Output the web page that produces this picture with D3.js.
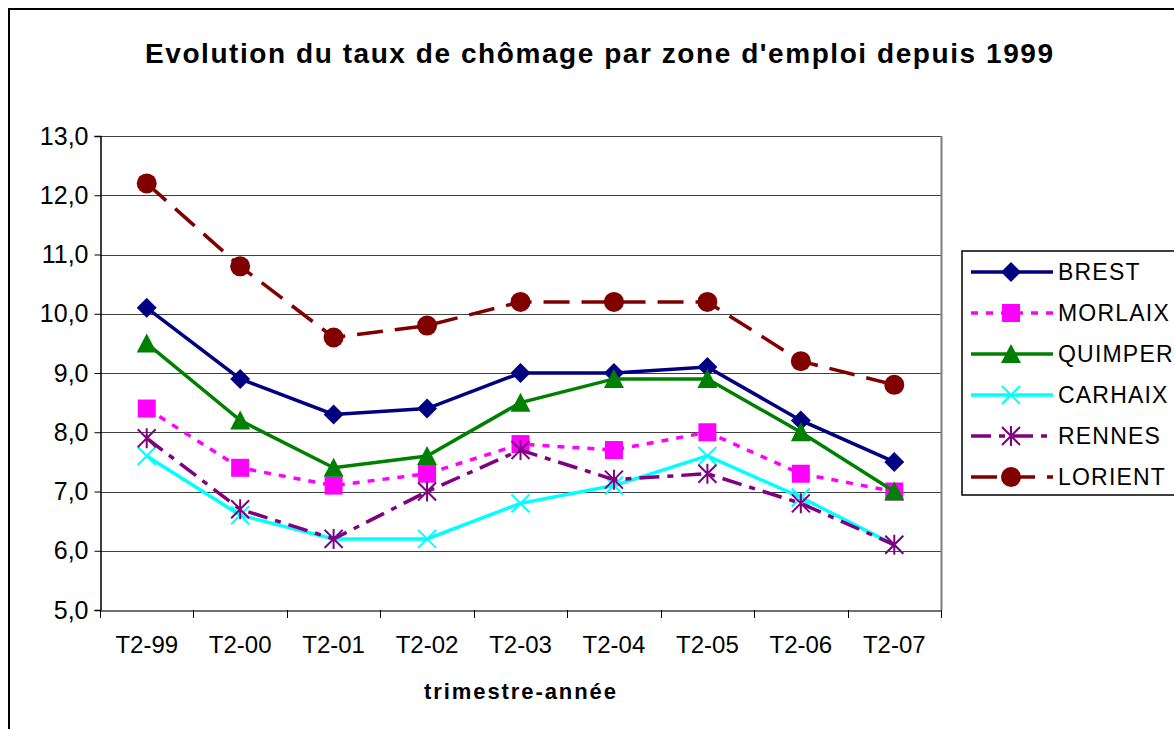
<!DOCTYPE html>
<html><head><meta charset="utf-8">
<script src="https://cdn.jsdelivr.net/npm/d3@7"></script>
<style>body{margin:0;background:#fff}svg{display:block}text{font-family:"Liberation Sans",Arial,sans-serif}</style>
</head><body>
<svg id="c" width="1174" height="729"></svg>
<script>
const categories = ["T2-99","T2-00","T2-01","T2-02","T2-03","T2-04","T2-05","T2-06","T2-07"];
const seriesNames = ["BREST","MORLAIX","QUIMPER","CARHAIX","RENNES","LORIENT"];
const brest   = [10.1, 8.9, 8.3, 8.4, 9.0, 9.0, 9.1, 8.2, 7.5];
const morlaix = [8.4, 7.4, 7.1, 7.3, 7.8, 7.7, 8.0, 7.3, 7.0];
const quimper = [9.5, 8.2, 7.4, 7.6, 8.5, 8.9, 8.9, 8.0, 7.0];
const carhaix = [7.6, 6.6, 6.2, 6.2, 6.8, 7.1, 7.6, 6.9, 6.1];
const rennes  = [7.9, 6.7, 6.2, 7.0, 7.7, 7.2, 7.3, 6.8, 6.1];
const lorient = [12.2, 10.8, 9.6, 9.8, 10.2, 10.2, 10.2, 9.2, 8.8];
const yTicks = [5,6,7,8,9,10,11,12,13];
const title = "Evolution du taux de chômage par zone d'emploi depuis 1999";
const xTitle = "trimestre-année";

const seriesValues = [brest, morlaix, quimper, carhaix, rennes, lorient];
const styles = [
  {color:"#000080", dash:null, marker:"diamond"},
  {color:"#FF00FF", dash:"7,8", marker:"square"},
  {color:"#008000", dash:null, marker:"triangle"},
  {color:"#00FFFF", dash:null, marker:"x"},
  {color:"#800080", dash:"20,8,6,8", marker:"star"},
  {color:"#800000", dash:"26,12", marker:"circle"}
];

const svg = d3.select("#c");
svg.append("rect").attr("x",9).attr("y",9).attr("width",1200).attr("height",760)
  .attr("fill","none").attr("stroke","#000").attr("stroke-width",2);

const L=100, R=941, T=136, B=610;
const x = d3.scaleBand().domain(categories).range([L,R]);
const y = d3.scaleLinear().domain([5,13]).range([B,T]);

svg.append("g").selectAll("line").data(yTicks.slice(1)).join("line")
  .attr("x1",L).attr("x2",R).attr("y1",d=>Math.round(y(d))+0.5).attr("y2",d=>Math.round(y(d))+0.5)
  .attr("stroke","#404040").attr("stroke-width",1);
svg.append("line").attr("x1",R+0.5).attr("x2",R+0.5).attr("y1",T).attr("y2",B).attr("stroke","#808080").attr("stroke-width",2);

const yAxis = d3.axisLeft(y).tickValues(yTicks).tickSize(6).tickPadding(6)
  .tickFormat(d=>d3.format(".1f")(d).replace(".",","));
const gy = svg.append("g").attr("transform",`translate(${L+0.5},0)`).call(yAxis);
gy.select(".domain").attr("stroke","#000").attr("stroke-width",1.5);
gy.selectAll(".tick line").attr("stroke","#000");
gy.selectAll("text").attr("font-size",25).attr("fill","#000");

const xAxis = d3.axisBottom(x).tickSize(0).tickPadding(25);
const gx = svg.append("g").attr("transform",`translate(0,${B+0.5})`).call(xAxis);
gx.select(".domain").attr("stroke","#404040").attr("stroke-width",1.5);
gx.selectAll("text").attr("font-size",24).attr("fill","#000");
const bounds = categories.map(c=>x(c)).concat([x(categories[categories.length-1])+x.bandwidth()]);
svg.append("g").selectAll("line").data(bounds).join("line")
  .attr("x1",d=>Math.round(d)+0.5).attr("x2",d=>Math.round(d)+0.5).attr("y1",B).attr("y2",B+8)
  .attr("stroke","#000").attr("stroke-width",1);

const cx = c => x(c)+x.bandwidth()/2;

function drawMarker(g, type, color, px, py) {
  if (type==="diamond") {
    const r=10;
    g.append("path").attr("d",`M${px},${py-r}L${px+r},${py}L${px},${py+r}L${px-r},${py}Z`).attr("fill",color);
  } else if (type==="square") {
    const r=9;
    g.append("rect").attr("x",px-r).attr("y",py-r).attr("width",2*r).attr("height",2*r).attr("fill",color);
  } else if (type==="triangle") {
    const r=10;
    g.append("path").attr("d",`M${px},${py-r}L${px+r},${py+r*0.9}L${px-r},${py+r*0.9}Z`).attr("fill",color);
  } else if (type==="x") {
    const r=9;
    g.append("path").attr("d",`M${px-r},${py-r}L${px+r},${py+r}M${px-r},${py+r}L${px+r},${py-r}`)
      .attr("stroke",color).attr("stroke-width",2).attr("fill","none");
  } else if (type==="star") {
    const r=9;
    g.append("path").attr("d",`M${px-r},${py-r}L${px+r},${py+r}M${px-r},${py+r}L${px+r},${py-r}M${px},${py-r-1}L${px},${py+r+1}`)
      .attr("stroke",color).attr("stroke-width",2).attr("fill","none");
  } else if (type==="circle") {
    g.append("circle").attr("cx",px).attr("cy",py).attr("r",10).attr("fill",color);
  }
}

const line = d3.line().x((d,i)=>cx(categories[i])).y(d=>y(d));
seriesValues.forEach((vals,k)=>{
  const st = styles[k];
  const g = svg.append("g");
  g.append("path").datum(vals).attr("d",line).attr("fill","none")
    .attr("stroke",st.color).attr("stroke-width",3.5)
    .attr("stroke-dasharray",st.dash);
  vals.forEach((v,i)=>drawMarker(g, st.marker, st.color, cx(categories[i]), y(v)));
});

svg.append("text").attr("x",599).attr("y",63).attr("text-anchor","middle")
  .attr("font-size",28).attr("font-weight","bold").attr("textLength",908).attr("lengthAdjust","spacing").text(title);
svg.append("text").attr("x",520).attr("y",699).attr("text-anchor","middle")
  .attr("font-size",22).attr("font-weight","bold").attr("textLength",192).attr("lengthAdjust","spacing").text(xTitle);

const lg = svg.append("g");
lg.append("rect").attr("x",962).attr("y",251).attr("width",240).attr("height",244)
  .attr("fill","#fff").attr("stroke","#000").attr("stroke-width",1.5);
seriesNames.forEach((n,k)=>{
  const st=styles[k];
  const ly = 272 + k*41;
  lg.append("line").attr("x1",971).attr("x2",1053).attr("y1",ly).attr("y2",ly)
    .attr("stroke",st.color).attr("stroke-width",3.5).attr("stroke-dasharray",st.dash);
  drawMarker(lg, st.marker, st.color, 1011, ly);
  lg.append("text").attr("x",1058).attr("y",ly+8).attr("font-size",23).attr("letter-spacing",1.2).text(n);
});
</script>
</body></html>
